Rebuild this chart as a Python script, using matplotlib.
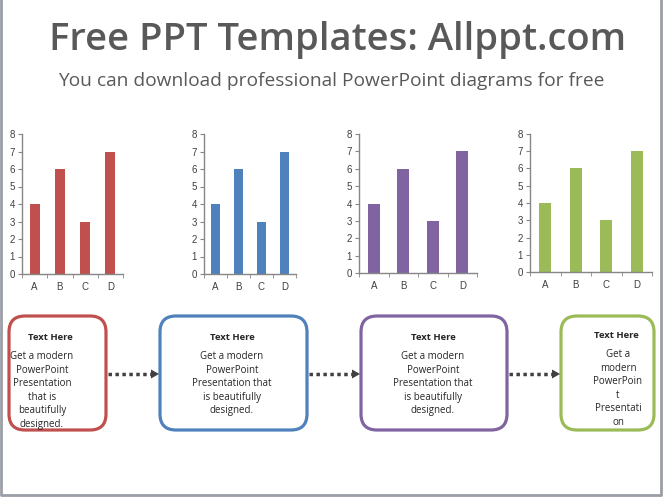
import matplotlib
matplotlib.use("Agg")
import matplotlib.pyplot as plt
from matplotlib.patches import FancyBboxPatch, Polygon

W, H = 663, 497

title = "Free PPT Templates: Allppt.com"
subtitle = "You can download professional PowerPoint diagrams for free"

categories = ["A", "B", "C", "D"]
series_values = [
    [4, 6, 3, 7],
    [4, 6, 3, 7],
    [4, 6, 3, 7],
    [4, 6, 3, 7],
]
colors = ["#C0504D", "#4F81BD", "#8064A2", "#9BBB59"]
y_ticks = [0, 1, 2, 3, 4, 5, 6, 7, 8]

box_heading = "Text Here"
box_texts = [
    "Get a modern\nPowerPoint\nPresentation\nthat is\nbeautifully\ndesigned.",
    "Get a modern\nPowerPoint\nPresentation that\nis beautifully\ndesigned.",
    "Get a modern\nPowerPoint\nPresentation that\nis beautifully\ndesigned.",
    "Get a\nmodern\nPowerPoin\nt\nPresentati\non",
]

# pixel frames: (left, right, top, bottom)
chart_frames = [(22, 123, 134, 274), (204, 296, 134, 274),
                (359, 477, 134, 273), (530, 652, 134, 272)]
box_frames = [(9, 106, 316, 430), (160, 307, 316, 430),
              (361, 507, 316, 430), (561, 654, 316, 430)]
heading_pos = [(50, 338), (232, 338), (433, 338), (616, 336)]
body_pos = [(42, 355), (232, 355), (433, 355), (618, 353)]

fig = plt.figure(figsize=(W / 100, H / 100), dpi=100)
bg = fig.add_axes([0, 0, 1, 1])
bg.set_xlim(0, W)
bg.set_ylim(H, 0)
bg.axis("off")

# slide border
bg.plot([1, 1, W - 2, W - 2], [0, H - 2, H - 2, 0], color="#9a9ea6", lw=2)

bg.text(W / 2 + 6, 40, title, ha="center", va="center", fontsize=27.5,
        family="Open Sans", weight="semibold", color="#595959")
bg.text(W / 2 + 0, 81, subtitle, ha="center", va="center", fontsize=13.8,
        family="Open Sans", color="#595959")

for vals, col, (l, r, t, b) in zip(series_values, colors, chart_frames):
    ax = fig.add_axes([l / W, 1 - b / H, (r - l) / W, (b - t) / H])
    x = range(len(categories))
    ax.bar(x, vals, width=0.4, color=col)
    ax.set_xlim(-0.5, len(categories) - 0.5)
    ax.set_ylim(0, 8)
    ax.set_yticks(y_ticks)
    ax.set_xticks(list(x))
    ax.set_xticklabels(categories)
    ax.set_xticks([i - 0.5 for i in range(len(categories) + 1)], minor=True)
    ax.tick_params(axis="x", which="major", length=0, pad=6)
    ax.tick_params(axis="x", which="minor", length=3, color="#868686")
    ax.tick_params(axis="y", length=3, color="#868686", pad=2)
    for lab in ax.get_xticklabels() + ax.get_yticklabels():
        lab.set_fontsize(7)
        lab.set_family("Liberation Sans")
        lab.set_color("#404040")
    for s in ["top", "right"]:
        ax.spines[s].set_visible(False)
    for s in ["left", "bottom"]:
        ax.spines[s].set_color("#868686")
        ax.spines[s].set_linewidth(1)

for col, (l, r, t, b), hp, bp, txt in zip(colors, box_frames, heading_pos, body_pos, box_texts):
    box = FancyBboxPatch((l, t), r - l, b - t, boxstyle="round,pad=0,rounding_size=16",
                         fc="white", ec=col, lw=2.3)
    bg.add_patch(box)
    bg.text(hp[0], hp[1], box_heading, ha="center", va="center", fontsize=6.8,
            family="Open Sans", weight="bold", color="#262626")
    bg.text(bp[0], bp[1] - 4, txt, ha="center", va="top", fontsize=7,
            family="Open Sans", color="#262626", linespacing=1.32)

# dotted connectors
for (l1, r1, t1, b1), (l2, r2, t2, b2) in zip(box_frames[:-1], box_frames[1:]):
    y = 374
    bg.plot([r1 + 2, l2 - 8], [y, y], color="#404040", lw=2.5, ls=(0, (1, 1)))
    bg.add_patch(Polygon([[l2 - 9, y - 4.5], [l2 - 1, y], [l2 - 9, y + 4.5]],
                         closed=True, fc="#404040", ec="none"))

fig.savefig("out.png", dpi=100)
